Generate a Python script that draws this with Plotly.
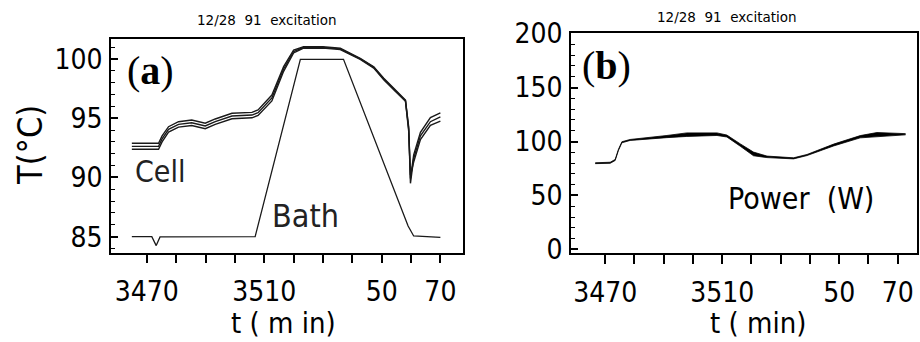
import plotly.graph_objects as go

# ---------------- data: panel (a) temperatures ----------------
cell_t = [3464.9, 3474.0, 3475.2, 3477.4, 3480.8, 3485.3, 3489.9, 3493.3, 3499.0, 3505.8,
          3507.9, 3512.6, 3516.6, 3520.0, 3523.4, 3530.0, 3535.9, 3542.7, 3547.3, 3550.7,
          3554.7, 3558.1, 3559.2, 3559.8, 3560.9, 3563.2, 3566.6, 3570.0]
cell_top = [92.88, 92.88, 93.5, 94.28, 94.70, 94.84, 94.57, 94.93, 95.41, 95.49,
            95.69, 96.95, 99.34, 100.75, 101.02, 101.02, 100.89, 100.05, 99.34, 98.36,
            97.37, 96.53, 94.28, 89.9, 91.9, 93.8, 95.05, 95.45]
cell_mid = [92.62, 92.62, 93.25, 94.05, 94.47, 94.61, 94.34, 94.70, 95.18, 95.26,
            95.46, 96.70, 99.15, 100.62, 100.96, 100.97, 100.84, 100.0, 99.28, 98.30,
            97.31, 96.48, 94.1, 89.5, 91.6, 93.5, 94.7, 95.1]
cell_bot = [92.38, 92.38, 93.0, 93.82, 94.24, 94.38, 94.11, 94.47, 94.95, 95.03,
            95.23, 96.45, 98.95, 100.5, 100.9, 100.92, 100.79, 99.95, 99.22, 98.24,
            97.25, 96.43, 93.9, 90.2, 91.3, 93.2, 94.4, 94.75]

bath_t = [3464.9, 3471.7, 3473.2, 3474.5, 3506.9, 3522.3, 3537.0, 3559.0, 3560.9, 3570.0]
bath_T = [85.0, 85.0, 84.25, 84.98, 85.0, 99.96, 99.96, 85.9, 85.06, 84.95]

# ---------------- data: panel (b) power ----------------
power_t = [3466.6, 3471.7, 3473.4, 3474.5, 3475.7, 3478.5, 3491.1, 3497.9, 3508.2, 3511.6,
           3516.2, 3520.7, 3525.3, 3534.4, 3539.0, 3548.1, 3557.2, 3562.9, 3572.7]
power_hi = [80.3, 80.8, 83.4, 92.6, 99.8, 101.9, 105.6, 108.0, 108.0, 106.0,
            97.8, 90.2, 86.5, 84.9, 88.0, 97.6, 105.5, 108.3, 107.3]
power_lo = [79.5, 79.8, 82.4, 91.6, 98.8, 101.0, 103.6, 104.7, 105.6, 104.2,
            95.6, 86.8, 85.1, 83.9, 87.0, 95.9, 103.4, 104.6, 106.2]

# ---------------- axes / labels ----------------
x_tickvals = [3470, 3480, 3490, 3500, 3510, 3520, 3530, 3540, 3550, 3560, 3570]
x_ticktext = ["3470", "", "", "", "3510", "", "", "", "50", "", "70"]
ya_ticks = [85, 90, 95, 100]
yb_ticks = [0, 50, 100, 150, 200]
title_text = "12/28  91  excitation"

FONT = "DejaVu Sans Condensed, DejaVu Sans, sans-serif"
SERIF = "Liberation Serif, DejaVu Serif, serif"
W, H = 920, 342

fig = go.Figure()

line_style = dict(color="#1a1a1a", width=1.4)
for ys in (cell_top, cell_mid, cell_bot):
    fig.add_trace(go.Scatter(x=cell_t, y=ys, mode="lines", line=line_style,
                             xaxis="x", yaxis="y", showlegend=False, hoverinfo="skip"))
fig.add_trace(go.Scatter(x=bath_t, y=bath_T, mode="lines", line=dict(color="#1a1a1a", width=1.3),
                         xaxis="x", yaxis="y", showlegend=False, hoverinfo="skip"))

fig.add_trace(go.Scatter(x=power_t, y=power_lo, mode="lines", line=dict(color="black", width=0.8),
                         xaxis="x2", yaxis="y2", showlegend=False, hoverinfo="skip"))
fig.add_trace(go.Scatter(x=power_t, y=power_hi, mode="lines", line=dict(color="black", width=0.8),
                         fill="tonexty", fillcolor="black",
                         xaxis="x2", yaxis="y2", showlegend=False, hoverinfo="skip"))


def xaxis_common(domain, rng, anchor):
    return dict(domain=domain, range=rng, tickvals=x_tickvals, ticktext=x_ticktext, anchor=anchor,
                ticks="outside", ticklen=9, tickwidth=1.5, tickcolor="black",
                showline=True, linecolor="black", linewidth=1.5, mirror=True,
                showgrid=False, zeroline=False, ticklabelstandoff=4, automargin=False,
                tickfont=dict(family=FONT, size=28, color="black"))


def yaxis_common(domain, rng, ticks, minor_dtick, anchor):
    return dict(domain=domain, range=rng, tickvals=ticks, anchor=anchor,
                ticks="inside", ticklen=7, tickwidth=1.5, tickcolor="black",
                minor=dict(dtick=minor_dtick, ticks="inside", ticklen=4, tickwidth=1.2,
                           tickcolor="black", showgrid=False),
                showline=True, linecolor="black", linewidth=1.5, mirror=True,
                showgrid=False, zeroline=False, ticklabelstandoff=1, automargin=False,
                tickfont=dict(family=FONT, size=28, color="black"))


fig.update_layout(
    template="none",
    width=W, height=H, margin=dict(l=0, r=0, t=0, b=0, pad=0, autoexpand=False),
    paper_bgcolor="white", plot_bgcolor="white", showlegend=False,
    xaxis=xaxis_common([111 / W, 463 / W], [3457.8, 3577.7], "y"),
    yaxis=yaxis_common([1 - 252.7 / H, 1 - 39.3 / H], [83.65, 101.65], ya_ticks, 1, "x"),
    xaxis2=xaxis_common([571 / W, 917 / W], [3458.3, 3576.6], "y2"),
    yaxis2=yaxis_common([1 - 253.3 / H, 1 - 33.3 / H], [-3.6, 200.3], yb_ticks, 10, "x2"),
)

C = dict(xanchor="center", yanchor="middle", showarrow=False)
ann = []
# titles
ann.append(dict(text=title_text, x=267 / W, y=1 - 20 / H, xref="paper", yref="paper",
                font=dict(family="DejaVu Sans", size=13.5, color="black"), **C))
ann.append(dict(text=title_text, x=727 / W, y=1 - 17 / H, xref="paper", yref="paper",
                font=dict(family="DejaVu Sans", size=13.5, color="black"), **C))
# axis titles
ann.append(dict(text="T(°C)", x=30 / W, y=1 - 145 / H, xref="paper", yref="paper",
                textangle=-90, font=dict(family=FONT, size=34, color="black"), **C))
ann.append(dict(text="t ( m in)", x=283 / W, y=1 - 323 / H, xref="paper", yref="paper",
                font=dict(family=FONT, size=29, color="black"), **C))
ann.append(dict(text="t ( min)", x=758 / W, y=1 - 323 / H, xref="paper", yref="paper",
                font=dict(family=FONT, size=29, color="black"), **C))
# in-panel labels
ann.append(dict(text="(<b>a</b>)", x=3471.1, y=99.06, xref="x", yref="y",
                font=dict(family=SERIF, size=40, color="black"), **C))
ann.append(dict(text="Cell", x=3474.5, y=90.54, xref="x", yref="y",
                font=dict(family=FONT, size=30, color="#222"), **C))
ann.append(dict(text="Bath", x=3524.0, y=86.75, xref="x", yref="y",
                font=dict(family=FONT, size=32, color="#222"), **C))
ann.append(dict(text="(<b>b</b>)", x=3470.3, y=170, xref="x2", yref="y2",
                font=dict(family=SERIF, size=40, color="black"), **C))
ann.append(dict(text="Power  (W)", x=3536.9, y=47.6, xref="x2", yref="y2",
                font=dict(family=FONT, size=30, color="black"), **C))
fig.update_layout(annotations=ann)

fig.write_html("out.html")
